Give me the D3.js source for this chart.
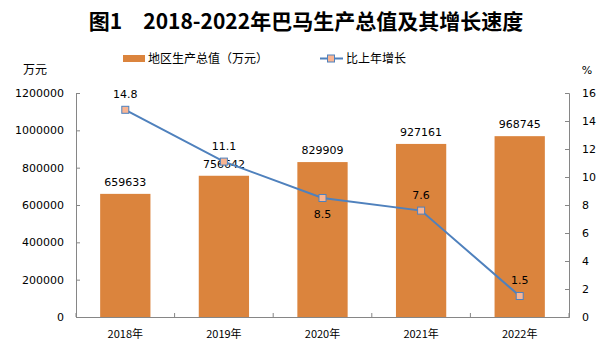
<!DOCTYPE html>
<html><head><meta charset="utf-8">
<script src="https://cdn.jsdelivr.net/npm/d3@7"></script>
<style>body{margin:0;background:#fff}svg{display:block}</style>
</head><body>
<svg id="c" width="613" height="355"></svg>
<script>
const categories = ["2018年","2019年","2020年","2021年","2022年"];
const gdp = [659633, 756642, 829909, 927161, 968745];
const growth = [14.8, 11.1, 8.5, 7.6, 1.5];
const leftTicks = [0,200000,400000,600000,800000,1000000,1200000];
const rightTicks = [0,2,4,6,8,10,12,14,16];
const growthLabelPos = ["above","above","below","above","above"];

const svg = d3.select("#c");
const m={l:76,r:569,t:93,b:317};
const num="'DejaVu Sans', Verdana, sans-serif";
const cjk="'Noto Sans CJK SC', sans-serif";
const axisColor="#868686";
const barColor="#DB843D";
const lineColor="#4F81BD";
const markerFill="#F9B593";

const x = d3.scaleBand().domain(categories).range([m.l,m.r]).paddingInner(0.49).paddingOuter(0.245);
const xb = d3.scaleBand().domain(categories).range([m.l,m.r]);
const yL = d3.scaleLinear().domain([0,1200000]).range([m.b,m.t]);
const yR = d3.scaleLinear().domain([0,16]).range([m.b,m.t]);

// title
svg.append("text").attr("x",306).attr("y",29).attr("text-anchor","middle")
  .attr("font-family",cjk).attr("font-weight","bold").attr("font-size",21).attr("fill","#000")
  .text("图1　2018-2022年巴马生产总值及其增长速度");

// legend
svg.append("rect").attr("x",123).attr("y",55).attr("width",22).attr("height",7).attr("fill",barColor);
svg.append("text").attr("x",148).attr("y",63).attr("font-family",cjk).attr("font-size",12).attr("fill","#000").text("地区生产总值（万元）");
svg.append("line").attr("x1",320).attr("x2",343).attr("y1",58.5).attr("y2",58.5).attr("stroke",lineColor).attr("stroke-width",2);
svg.append("rect").attr("x",327.5).attr("y",55).attr("width",7).attr("height",7).attr("fill",markerFill).attr("stroke",lineColor).attr("stroke-width",1);
svg.append("text").attr("x",346).attr("y",63).attr("font-family",cjk).attr("font-size",12).attr("fill","#000").text("比上年增长");

// unit labels
svg.append("text").attr("x",35).attr("y",74).attr("text-anchor","middle").attr("font-family",cjk).attr("font-size",12).text("万元");
svg.append("text").attr("x",587).attr("y",74).attr("text-anchor","middle").attr("font-family",num).attr("font-size",11).text("%");

// bars
svg.selectAll("rect.bar").data(gdp).enter().append("rect").attr("class","bar")
  .attr("x",(d,i)=>x(categories[i])).attr("width",x.bandwidth())
  .attr("y",d=>yL(d)).attr("height",d=>yL(0)-yL(d)).attr("fill",barColor);

// axes
const leftAxis = d3.axisLeft(yL).tickValues(leftTicks).tickSize(-4).tickPadding(12).tickFormat(d3.format("d"));
const gl = svg.append("g").attr("transform",`translate(${m.l},0)`).call(leftAxis);
const rightAxis = d3.axisRight(yR).tickValues(rightTicks).tickSize(-4).tickPadding(13);
const gr = svg.append("g").attr("transform",`translate(${m.r},0)`).call(rightAxis);
const bottomAxis = d3.axisBottom(xb).tickSize(0).tickPadding(13);
const gb = svg.append("g").attr("transform",`translate(0,${m.b})`).call(bottomAxis);
[gl,gr,gb].forEach(g=>{
  g.select(".domain").attr("stroke",axisColor);
  g.selectAll(".tick line").attr("stroke",axisColor);
  g.selectAll("text").attr("font-family",num).attr("font-size",11).attr("fill","#000");
});
gb.selectAll("text").attr("font-family",cjk).attr("font-size",11);
// category boundary ticks
const bounds = categories.map(c=>xb(c)).concat([m.r]);
svg.selectAll("line.ct").data(bounds).enter().append("line").attr("class","ct")
  .attr("x1",d=>d).attr("x2",d=>d).attr("y1",m.b).attr("y2",m.b-4).attr("stroke",axisColor);

// bar labels
svg.selectAll("text.bl").data(gdp).enter().append("text").attr("class","bl")
  .attr("x",(d,i)=>x(categories[i])+x.bandwidth()/2).attr("y",d=>yL(d)-8)
  .attr("text-anchor","middle").attr("font-family",num).attr("font-size",11).attr("fill","#000")
  .text(d=>d);

// line
const cx = i=>xb(categories[i])+xb.bandwidth()/2;
svg.append("path").datum(growth).attr("fill","none").attr("stroke",lineColor).attr("stroke-width",2)
  .attr("d",d3.line().x((d,i)=>cx(i)).y(d=>yR(d)));
svg.selectAll("rect.mk").data(growth).enter().append("rect").attr("class","mk")
  .attr("x",(d,i)=>cx(i)-3.5).attr("y",d=>yR(d)-3.5).attr("width",7).attr("height",7)
  .attr("fill",markerFill).attr("stroke",lineColor).attr("stroke-width",1);
svg.selectAll("text.gl").data(growth).enter().append("text").attr("class","gl")
  .attr("x",(d,i)=>cx(i)).attr("y",(d,i)=>growthLabelPos[i]==="below"?yR(d)+20:yR(d)-12)
  .attr("text-anchor","middle").attr("font-family",num).attr("font-size",11).attr("fill","#000")
  .text(d=>d.toFixed(1));
</script>
</body></html>
